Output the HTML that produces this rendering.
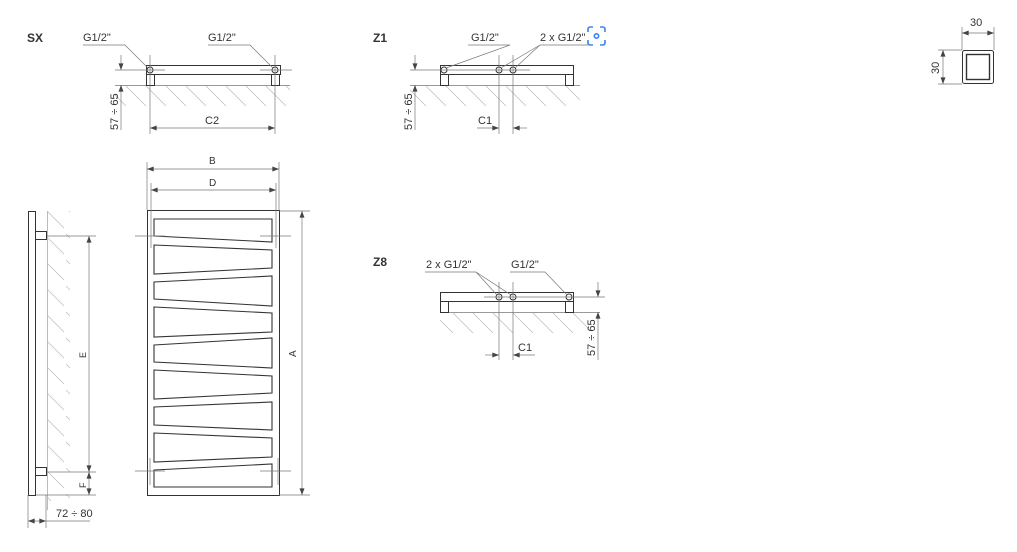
<!DOCTYPE html>
<html><head><meta charset="utf-8"><style>
html,body{margin:0;padding:0;background:#fff;width:1017px;height:552px;overflow:hidden}
svg{display:block}
text{font-family:"Liberation Sans",sans-serif;fill:#333}
</style></head><body>
<svg width="1017" height="552" viewBox="0 0 1017 552" xmlns="http://www.w3.org/2000/svg">
<defs>
<marker id="a" viewBox="0 0 8 6" refX="8" refY="3" markerWidth="7" markerHeight="5" orient="auto-start-reverse" markerUnits="userSpaceOnUse"><path d="M0,0 L8,3 L0,6 z" fill="#444"/></marker>
<pattern id="h" patternUnits="userSpaceOnUse" width="20" height="20"><line x1="0" y1="0" x2="20" y2="20" stroke="#bbb" stroke-width="0.7"/></pattern>
<pattern id="hs" patternUnits="userSpaceOnUse" width="22" height="26"><line x1="0" y1="0" x2="20" y2="20" stroke="#bbb" stroke-width="0.7"/></pattern>
</defs>
<g fill="none" stroke="#333" stroke-width="1">

<!-- ===== SX ===== -->
<rect x="115" y="86" width="175" height="20" fill="url(#h)" stroke="none"/>
<line x1="115" y1="85.5" x2="290" y2="85.5" stroke="#999"/>
<rect x="146.5" y="65.5" width="134" height="9" fill="#fff"/>
<rect x="146.5" y="74.5" width="8" height="11" fill="#fff"/>
<rect x="271.5" y="74.5" width="8" height="11" fill="#fff"/>
<circle cx="150" cy="70" r="3"/><circle cx="275" cy="70" r="3"/>
<g stroke="#777" stroke-width="0.7">
<line x1="115" y1="70" x2="165" y2="70"/><line x1="260" y1="70" x2="292" y2="70"/>
<line x1="150" y1="55" x2="150" y2="134"/><line x1="275" y1="55" x2="275" y2="134"/>
<line x1="121" y1="55" x2="121" y2="70" marker-end="url(#a)"/>
<line x1="121" y1="130" x2="121" y2="85" marker-end="url(#a)"/>
<line x1="150" y1="128" x2="275" y2="128" marker-start="url(#a)" marker-end="url(#a)"/>
<polyline points="83,45 125,45 148,68"/><polyline points="208,45 250,45 273,68"/>
</g>

<!-- ===== Z1 ===== -->
<rect x="410" y="86" width="170" height="20" fill="url(#h)" stroke="none"/>
<line x1="410" y1="85.5" x2="580" y2="85.5" stroke="#999"/>
<rect x="440.5" y="65.5" width="133" height="9" fill="#fff"/>
<rect x="440.5" y="74.5" width="8" height="11" fill="#fff"/>
<rect x="565.5" y="74.5" width="8" height="11" fill="#fff"/>
<circle cx="444" cy="70" r="3"/><circle cx="499" cy="70" r="3"/><circle cx="513" cy="70" r="3"/>
<g stroke="#777" stroke-width="0.7">
<line x1="410" y1="70" x2="530" y2="70"/>
<line x1="499" y1="55" x2="499" y2="134"/><line x1="513" y1="55" x2="513" y2="134"/>
<line x1="415" y1="55" x2="415" y2="70" marker-end="url(#a)"/>
<line x1="415" y1="130" x2="415" y2="85" marker-end="url(#a)"/>
<line x1="477" y1="128" x2="499" y2="128" marker-end="url(#a)"/>
<line x1="527" y1="128" x2="513" y2="128" marker-end="url(#a)"/>
<polyline points="468,45 510,45 446,68"/>
<polyline points="540,45 588,45"/><line x1="540" y1="45" x2="501" y2="68"/><line x1="540" y1="45" x2="515" y2="68"/>
</g>

<!-- ===== Z8 ===== -->
<rect x="440" y="313" width="150" height="20" fill="url(#h)" stroke="none"/>
<line x1="440" y1="312.5" x2="600" y2="312.5" stroke="#999"/>
<rect x="440.5" y="292.5" width="133" height="9" fill="#fff"/>
<rect x="440.5" y="301.5" width="8" height="11" fill="#fff"/>
<rect x="565.5" y="301.5" width="8" height="11" fill="#fff"/>
<circle cx="499" cy="297" r="3"/><circle cx="513" cy="297" r="3"/><circle cx="569" cy="297" r="3"/>
<g stroke="#777" stroke-width="0.7">
<line x1="484" y1="297" x2="605" y2="297"/>
<line x1="499" y1="282" x2="499" y2="360"/><line x1="513" y1="282" x2="513" y2="360"/>
<line x1="598" y1="282" x2="598" y2="297" marker-end="url(#a)"/>
<line x1="598" y1="360" x2="598" y2="312" marker-end="url(#a)"/>
<line x1="485" y1="355" x2="499" y2="355" marker-end="url(#a)"/>
<line x1="535" y1="355" x2="513" y2="355" marker-end="url(#a)"/>
<polyline points="425,272 476,272"/><line x1="476" y1="272" x2="497" y2="295"/><line x1="476" y1="272" x2="511" y2="295"/>
<polyline points="510,272 545,272 567,295"/>
</g>

<!-- ===== Side view ===== -->
<rect x="48" y="211" width="22" height="290" fill="url(#hs)" stroke="none"/>
<line x1="47.5" y1="211" x2="47.5" y2="510" stroke="#bbb"/>
<rect x="28.5" y="211.5" width="7" height="284"/>
<rect x="35.5" y="231.5" width="11" height="8" fill="#fff"/>
<rect x="35.5" y="467.5" width="11" height="8" fill="#fff"/>
<g stroke="#777" stroke-width="0.7">
<line x1="47" y1="236" x2="96" y2="236"/><line x1="47" y1="472" x2="96" y2="472"/><line x1="36" y1="495" x2="96" y2="495"/>
<line x1="89" y1="472" x2="89" y2="236" marker-start="url(#a)" marker-end="url(#a)"/>
<line x1="89" y1="472" x2="89" y2="495" marker-start="url(#a)" marker-end="url(#a)"/>
<line x1="28" y1="495" x2="28" y2="528"/><line x1="46" y1="495" x2="46" y2="528"/>
<line x1="28" y1="521" x2="46" y2="521" marker-start="url(#a)" marker-end="url(#a)"/>
<line x1="46" y1="521" x2="90" y2="521"/>
</g>

<!-- ===== Front view ===== -->
<rect x="147.5" y="210.5" width="132" height="285"/>
<g stroke-width="1.1">
<polygon points="154,219 272,219 272,242 154,236"/>
<polygon points="154,245 272,250 272,268 154,274"/>
<polygon points="154,282 272,276 272,306 154,299"/>
<polygon points="154,307 272,313 272,332 154,337"/>
<polygon points="154,345 272,338 272,368 154,362"/>
<polygon points="154,370 272,376 272,393 154,399"/>
<polygon points="154,407 272,402 272,430 154,425"/>
<polygon points="154,433 272,438 272,457 154,462"/>
<polygon points="154,470 272,464 272,487 154,487"/>
</g>
<g stroke="#777" stroke-width="0.7">
<line x1="147" y1="162" x2="147" y2="210"/><line x1="279" y1="162" x2="279" y2="210"/>
<line x1="147" y1="169" x2="279" y2="169" marker-start="url(#a)" marker-end="url(#a)"/>
<line x1="151" y1="183" x2="151" y2="248"/><line x1="276" y1="183" x2="276" y2="248"/>
<line x1="151" y1="190" x2="276" y2="190" marker-start="url(#a)" marker-end="url(#a)"/>
<line x1="279" y1="211" x2="310" y2="211"/><line x1="279" y1="495" x2="310" y2="495"/>
<line x1="302" y1="211" x2="302" y2="495" marker-start="url(#a)" marker-end="url(#a)"/>
<line x1="135" y1="236" x2="165" y2="236"/><line x1="260" y1="236" x2="291" y2="236"/>
<line x1="135" y1="471" x2="165" y2="471"/><line x1="260" y1="471" x2="291" y2="471"/>
<line x1="150" y1="458" x2="150" y2="485"/><line x1="278" y1="458" x2="278" y2="485"/>
</g>

<!-- ===== Square profile ===== -->
<rect x="962.5" y="50.5" width="31" height="33" rx="2"/>
<rect x="966.5" y="54.5" width="23" height="25" stroke-width="1.4"/>
<g stroke="#777" stroke-width="0.7">
<line x1="962" y1="27" x2="962" y2="50"/><line x1="994" y1="27" x2="994" y2="50"/>
<line x1="962" y1="33" x2="994" y2="33" marker-start="url(#a)" marker-end="url(#a)"/>
<line x1="938" y1="50" x2="962" y2="50"/><line x1="938" y1="84" x2="962" y2="84"/>
<line x1="943" y1="50" x2="943" y2="84" marker-start="url(#a)" marker-end="url(#a)"/>
</g>

<!-- scan icon -->
<g stroke="#3b82f6" stroke-width="1.6">
<path d="M588,32 v-3 a2,2 0 0 1 2,-2 h3 M600,27 h3 a2,2 0 0 1 2,2 v3 M605,40 v3 a2,2 0 0 1 -2,2 h-3 M593,45 h-3 a2,2 0 0 1 -2,-2 v-3"/>
<circle cx="596.5" cy="36" r="2.2"/>
</g>
</g>

<g font-size="11">
<text x="27" y="42" font-weight="bold" font-size="12" fill="#111">SX</text>
<text x="373" y="42" font-weight="bold" font-size="12" fill="#111">Z1</text>
<text x="373" y="266" font-weight="bold" font-size="12" fill="#111">Z8</text>
<text x="83" y="41">G1/2"</text>
<text x="208" y="41">G1/2"</text>
<text x="471" y="41">G1/2"</text>
<text x="540" y="41">2 x G1/2"</text>
<text x="426" y="268">2 x G1/2"</text>
<text x="511" y="268">G1/2"</text>
<text x="205" y="124">C2</text>
<text x="478" y="124">C1</text>
<text x="518" y="351">C1</text>
<text x="209" y="164" font-size="10">B</text>
<text x="209" y="186" font-size="10">D</text>
<text x="970" y="26">30</text>
<text x="56" y="517">72 ÷ 80</text>
<text transform="translate(118,130) rotate(-90)">57 ÷ 65</text>
<text transform="translate(412,130) rotate(-90)">57 ÷ 65</text>
<text transform="translate(595,356) rotate(-90)">57 ÷ 65</text>
<text transform="translate(939,74) rotate(-90)">30</text>
<text transform="translate(296,357) rotate(-90)" font-size="10">A</text>
<text transform="translate(86,358) rotate(-90)" font-size="9">E</text>
<text transform="translate(86,488) rotate(-90)" font-size="9">F</text>
</g>
</svg>
</body></html>
